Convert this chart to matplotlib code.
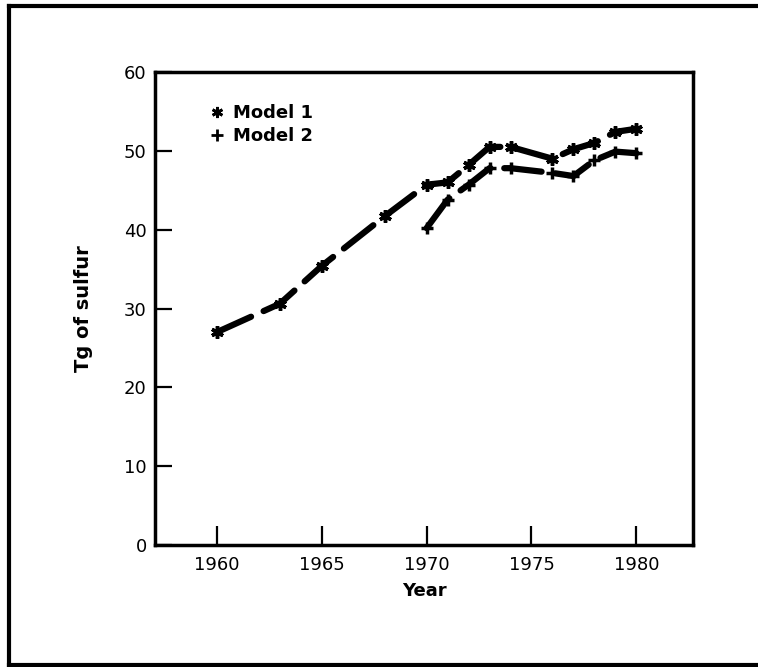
import matplotlib
matplotlib.use('Agg')
import matplotlib.pyplot as plt
from matplotlib.lines import Line2D

# values
years_m1 = [1960, 1963, 1965, 1968, 1970, 1971, 1972, 1973, 1974, 1976, 1977, 1978, 1979, 1980]
model1 = [27.0, 30.6, 35.4, 41.7, 45.7, 46.0, 48.2, 50.5, 50.5, 49.0, 50.2, 51.0, 52.4, 52.8]

years_m2 = [1970, 1971, 1972, 1973, 1974, 1976, 1977, 1978, 1979, 1980]
model2 = [40.2, 43.8, 45.7, 47.8, 47.8, 47.2, 46.8, 48.8, 49.9, 49.7]

xticks = [1960, 1965, 1970, 1975, 1980]
yticks = [0, 10, 20, 30, 40, 50, 60]

W, H = 758, 667
fig = plt.figure(figsize=(W / 100, H / 100), dpi=100)
fig.patch.set_facecolor('white')

# scan border around the whole figure
border_kw = dict(color='black', lw=3, transform=fig.transFigure)
fig.add_artist(Line2D([9 / W, 9 / W], [1 - 6 / H, 2 / H], **border_kw))
fig.add_artist(Line2D([9 / W, 1.0], [1 - 6 / H, 1 - 6 / H], **border_kw))
fig.add_artist(Line2D([9 / W, 1.0], [2 / H, 2 / H], **border_kw))

ax = fig.add_axes([155 / W, 1 - 545 / H, (693 - 155) / W, (545 - 72) / H])

dash = (6, 2.2)
ax.plot(years_m1, model1, color='black', lw=4.5, dashes=dash,
        dash_capstyle='round',
        marker=(6, 2, 0), markersize=9, markeredgewidth=2.5)
ax.plot(years_m2, model2, color='black', lw=4.5, dashes=dash,
        dash_capstyle='round',
        marker='+', markersize=9, markeredgewidth=2.5)

ax.set_xlim(1957.05, 1982.7)
ax.set_ylim(0, 60)
ax.set_xticks(xticks)
ax.set_yticks(yticks)
ax.tick_params(direction='in', width=1.6, labelsize=13)
ax.tick_params(axis='x', length=14, pad=8)
ax.tick_params(axis='y', length=12, pad=6)
for s in ax.spines.values():
    s.set_linewidth(2.5)

ax.set_xlabel('Year', fontsize=13, fontweight='bold', labelpad=6)
ax.set_ylabel('Tg of sulfur', fontsize=14, fontweight='bold', labelpad=22)

handles = [
    Line2D([], [], ls='none', color='black', marker=(6, 2, 0), markersize=8, markeredgewidth=2),
    Line2D([], [], ls='none', color='black', marker='+', markersize=8, markeredgewidth=2),
]
ax.legend(handles, ['Model 1', 'Model 2'], loc='upper left',
          bbox_to_anchor=(0.075, 0.967), frameon=False, handlelength=0.6,
          handletextpad=0.6, labelspacing=0.3,
          prop={'size': 13, 'weight': 'bold'})

fig.savefig('out.png', dpi=100, facecolor='white')
